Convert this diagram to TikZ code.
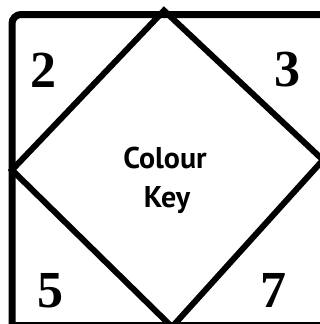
\documentclass[tikz,border=0pt]{standalone}
\usepackage{fontspec}
\setmainfont{Liberation Serif}
\newfontfamily\keyfont{PT Sans}
\usetikzlibrary{positioning}

\begin{document}
\begin{tikzpicture}[x=1pt, y=-1pt,
  frame/.style = {line width=7pt},
  diamondline/.style = {line width=6pt, line join=miter},
  numlabel/.style = {inner sep=0pt, font=\fontsize{52}{52}\selectfont\bfseries},
  keylabel/.style = {inner sep=0pt, anchor=base, font=\keyfont\fontsize{30}{30}\selectfont\bfseries}
]
\useasboundingbox (0,0) rectangle (320,324);
\clip (0,0) rectangle (320,324);

% frame, only its top left corner is round
\draw[frame, rounded corners=9pt] (12,340) -- (12,14.5) -- (340,14.5);
\draw[frame] (8.5,325.5) -- (340,325.5);

\coordinate (dtop) at (164,10.5);
\coordinate (dright) at (323,160);
\coordinate (dbottom) at (172,327);
\coordinate (dleft) at (12,170);
\draw[diamondline] (dtop) -- (dright) -- (dbottom) -- (dleft) -- cycle;

\node[numlabel] (n2) at (43,70) {2};
\node[numlabel] (n3) at (287,70) {3};
\node[numlabel] (n5) at (50,291) {5};
\node[numlabel] (n7) at (273,290) {7};

\node[keylabel] (colour) at (165,168) {Colour};
\node[keylabel] (key) at (167,207) {Key};
\end{tikzpicture}
\end{document}
